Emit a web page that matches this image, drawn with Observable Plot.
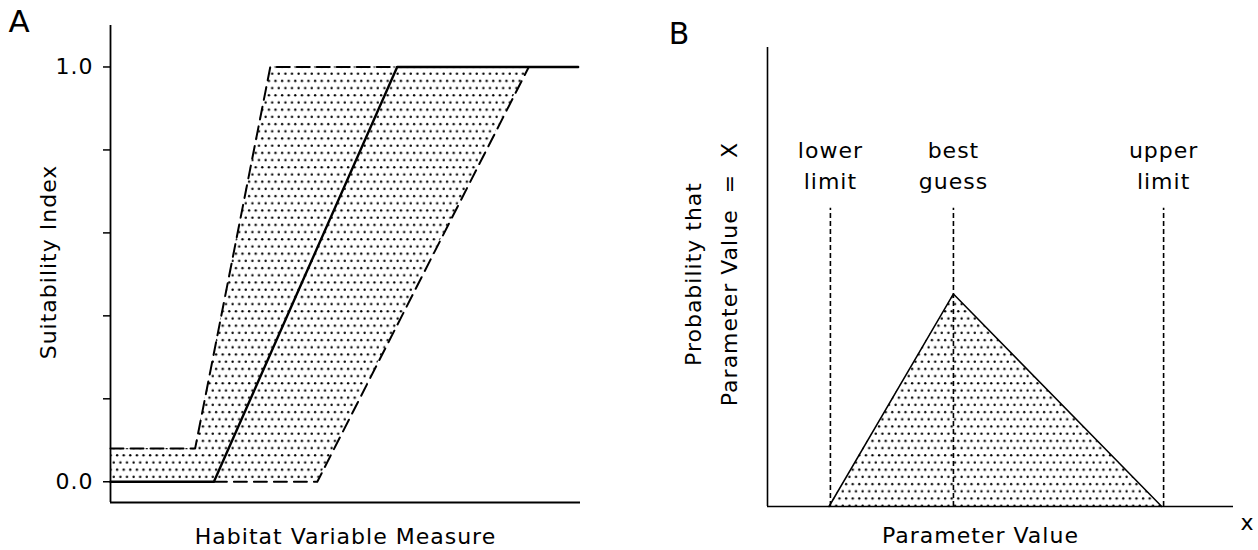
<!DOCTYPE html>
<html><head><meta charset="utf-8">
<script src="https://cdn.jsdelivr.net/npm/d3@7"></script>
<script src="https://cdn.jsdelivr.net/npm/@observablehq/plot@0.6"></script>
<style>
body{margin:0;background:#fff;}
#wrap{position:relative;width:1258px;height:550px;overflow:hidden;background:#fff;}
#a{position:absolute;left:0;top:0;}
#b{position:absolute;left:630px;top:0;}
</style></head><body>
<div id="wrap"><div id="a"></div><div id="b"></div></div>
<script>
// ---------- Panel A data ----------
const aTicks = [0, 0.2, 0.4, 0.6, 0.8, 1.0];
const aTickLabels = ["0.0", "", "", "", "", "1.0"];
const solidX = [0, 2.2, 6.1, 9.95];
const solidY = [0, 0, 1, 1];
const upperX = [0, 1.8, 3.4, 6.1];
const upperY = [0.08, 0.08, 1, 1];
const lowerX = [2.2, 4.4, 8.9];
const lowerY = [0, 0, 1];
const bandX = [0, 1.8, 3.4, 4.4, 8.9];
const bandLow = [0, 0, 0, 0, 1];
const bandHigh = [0.08, 0.08, 1, 1, 1];
const aXLabel = "Habitat Variable Measure";
const aYLabel = "Suitability Index";

// ---------- Panel B data ----------
const markNames = ["lower\nlimit", "best\nguess", "upper\nlimit"];
const markX = [1.35, 3.99, 8.5];
const markTop = 0.65;
const triX = [1.32, 3.99, 8.46];
const triY = [0, 0.463, 0];
const bXLabel = "Parameter Value";
const bYLabel = "Probability that\nParameter Value \u00a0=\u00a0 X";

const font = "DejaVu Sans";
const tbl = (xs, ys) => xs.map((x, i) => ({x, y: ys[i]}));
const band = bandX.map((x, i) => ({x, lo: bandLow[i], hi: bandHigh[i]}));

function addPattern(svg, id) {
  const ns = "http://www.w3.org/2000/svg";
  const defs = document.createElementNS(ns, "defs");
  defs.innerHTML = `<pattern id="${id}" patternUnits="userSpaceOnUse" width="6.6" height="14.4">
    <circle cx="1.6" cy="1.6" r="1.2" fill="#000"/>
    <circle cx="4.9" cy="8.8" r="1.2" fill="#000"/></pattern>`;
  svg.insertBefore(defs, svg.firstChild);
}

const baseStyle = {fontFamily: font, fontSize: "22px", letterSpacing: "1px", color: "#000", background: "#fff", overflow: "visible"};

const plotA = Plot.plot({
  width: 620, height: 550,
  marginLeft: 110, marginRight: 40, marginTop: 25, marginBottom: 48,
  style: baseStyle,
  x: {domain: [0, 10], axis: null},
  y: {domain: [-0.05, 1.1]},
  marks: [
    Plot.areaY(band, {x: "x", y1: "lo", y2: "hi", fill: "url(#dotsA)"}),
    Plot.line(tbl(upperX, upperY), {x: "x", y: "y", stroke: "#000", strokeWidth: 2, strokeDasharray: "13,7"}),
    Plot.line(tbl(lowerX, lowerY), {x: "x", y: "y", stroke: "#000", strokeWidth: 2, strokeDasharray: "13,7"}),
    Plot.line(tbl(solidX, solidY), {x: "x", y: "y", stroke: "#000", strokeWidth: 2.4}),
    Plot.ruleX([0], {stroke: "#000", strokeWidth: 1.8}),
    Plot.ruleY([-0.05], {stroke: "#000", strokeWidth: 1.8}),
    Plot.axisY({ticks: aTicks, tickFormat: d => aTickLabels[aTicks.indexOf(d)], tickSize: 7, tickPadding: 10, fontSize: 22, label: null, strokeWidth: 1.5}),
    Plot.text([aYLabel], {text: d => d, frameAnchor: "left", textAnchor: "middle", rotate: -90, dx: -62, dy: -2, fontSize: 22}),
    Plot.text([aXLabel], {text: d => d, frameAnchor: "bottom", textAnchor: "middle", lineAnchor: "bottom", dy: 41, fontSize: 22}),
    Plot.text(["A"], {text: d => d, frameAnchor: "top-left", lineAnchor: "bottom", textAnchor: "middle", dx: -91, dy: 6, fontSize: 31})
  ]
});
addPattern(plotA, "dotsA");
document.getElementById("a").appendChild(plotA);

const plotB = Plot.plot({
  width: 628, height: 550,
  marginLeft: 137, marginRight: 25, marginTop: 47, marginBottom: 44,
  style: baseStyle,
  x: {domain: [0, 10], axis: null},
  y: {domain: [0, 1], axis: null},
  marks: [
    Plot.areaY(tbl(triX, triY), {x: "x", y: "y", fill: "url(#dotsB)"}),
    Plot.line(tbl(triX, triY), {x: "x", y: "y", stroke: "#000", strokeWidth: 1.5}),
    Plot.ruleX(markX, {x: d => d, y1: 0, y2: markTop, stroke: "#000", strokeWidth: 1.6, strokeDasharray: "5,3"}),
    Plot.text(markNames, {text: d => d, x: markX, y: markTop, dy: -19, lineAnchor: "bottom", lineHeight: 1.4, fontSize: 22}),
    Plot.ruleX([0], {stroke: "#000", strokeWidth: 1.6}),
    Plot.ruleY([0], {stroke: "#000", strokeWidth: 1.6}),
    Plot.text([bYLabel], {text: d => d, frameAnchor: "left", textAnchor: "middle", rotate: -90, dx: -60, dy: -3, lineHeight: 1.64, fontSize: 22}),
    Plot.text([bXLabel], {text: d => d, frameAnchor: "bottom", textAnchor: "middle", lineAnchor: "bottom", dx: -20, dy: 36, fontSize: 22}),
    Plot.text(["x"], {text: d => d, frameAnchor: "bottom-right", lineAnchor: "bottom", textAnchor: "middle", dx: 14, dy: 23, fontSize: 22}),
    Plot.text(["B"], {text: d => d, frameAnchor: "top-left", lineAnchor: "bottom", textAnchor: "middle", dx: -88, dy: -4, fontSize: 30})
  ]
});
addPattern(plotB, "dotsB");
document.getElementById("b").appendChild(plotB);
</script>
</body></html>
